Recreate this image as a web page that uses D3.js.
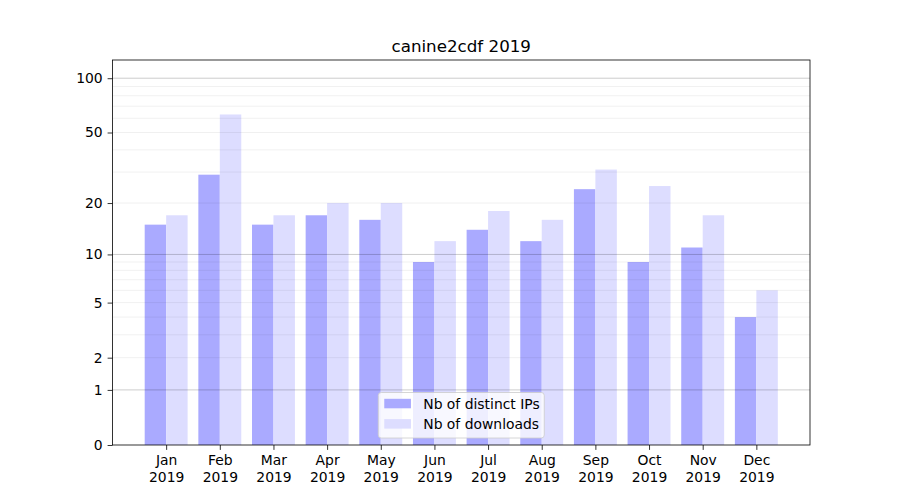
<!DOCTYPE html>
<html>
<head>
<meta charset="UTF-8">
<title>canine2cdf 2019</title>
<style>
    body { margin: 0; background: #fff; }
    svg, svg text { font-family: "DejaVu Sans", sans-serif; }
    .tick text { font-size: 13.9px; fill: #000; font-family: "DejaVu Sans", sans-serif; }
</style>
</head>
<body>
<div id="chart"></div>
<script src="https://d3js.org/d3.v7.min.js"></script>
<script>
// data
const months = ["Jan", "Feb", "Mar", "Apr", "May", "Jun", "Jul", "Aug", "Sep", "Oct", "Nov", "Dec"];
const year = "2019";
const distinctIPs = [15, 29, 15, 17, 16, 9, 14, 12, 24, 9, 11, 4];
const downloads = [17, 63, 17, 20, 20, 12, 18, 16, 31, 25, 17, 6];
const yTicks = [0, 1, 2, 5, 10, 20, 50, 100];
const majorGrid = [1, 10, 100];
const minorGrid = [2, 3, 4, 5, 6, 7, 8, 9, 20, 30, 40, 50, 60, 70, 80, 90];

const W = 900, H = 500;
const margin = { top: 60, right: 90, bottom: 55, left: 112.5 };
const width = W - margin.left - margin.right;
const height = H - margin.top - margin.bottom;

const svg = d3.select("#chart").append("svg")
    .attr("width", W).attr("height", H);

const g = svg.append("g")
    .attr("transform", `translate(${margin.left},${margin.top})`);

// x: month index, one empty slot on each side
const x = d3.scaleLinear().domain([-1, 12]).range([0, width]);
const barW = x(0.4) - x(0);

// y: symlog with constant 1 (log(1+v))
const y = d3.scaleSymlog().constant(1).domain([0, 126]).range([height, 0]);

// bars
g.selectAll(".ip").data(distinctIPs).enter().append("rect")
    .attr("class", "ip")
    .attr("x", (d, i) => x(i) - barW)
    .attr("y", d => y(d))
    .attr("width", barW)
    .attr("height", d => height - y(d))
    .attr("fill", "#aaaaff");

g.selectAll(".dl").data(downloads).enter().append("rect")
    .attr("class", "dl")
    .attr("x", (d, i) => x(i))
    .attr("y", d => y(d))
    .attr("width", barW)
    .attr("height", d => height - y(d))
    .attr("fill", "#ddddff");

// grid lines (drawn above bars like matplotlib)
g.selectAll(".minor").data(minorGrid).enter().append("line")
    .attr("x1", 0).attr("x2", width)
    .attr("y1", d => y(d)).attr("y2", d => y(d))
    .attr("stroke", "rgba(0,0,0,0.075)").attr("stroke-width", 0.8);

g.selectAll(".major").data(majorGrid).enter().append("line")
    .attr("x1", 0).attr("x2", width)
    .attr("y1", d => y(d)).attr("y2", d => y(d))
    .attr("stroke", "rgba(0,0,0,0.25)").attr("stroke-width", 0.8);

// axes
const yAxis = d3.axisLeft(y).tickValues(yTicks).tickFormat(d3.format("d"))
    .tickSize(4.9).tickPadding(4.9);
g.append("g").call(yAxis)
    .call(a => a.select(".domain").remove())
    .selectAll("line").attr("stroke", "#000").attr("stroke-width", 0.8);

const xAxis = d3.axisBottom(x).tickValues(d3.range(months.length))
    .tickFormat(i => months[i]).tickSize(4.9).tickPadding(4.9);
const xg = g.append("g").attr("transform", `translate(0,${height})`).call(xAxis);
xg.select(".domain").remove();
xg.selectAll("line").attr("stroke", "#000").attr("stroke-width", 0.8);
xg.selectAll(".tick text").each(function(i) {
    const t = d3.select(this).text(null);
    t.append("tspan").attr("x", 0).attr("dy", "0.76em").text(months[i]);
    t.append("tspan").attr("x", 0).attr("dy", "1.17em").text(year);
});

// frame
g.append("rect").attr("width", width).attr("height", height)
    .attr("fill", "none").attr("stroke", "#000").attr("stroke-width", 0.8);

// title
svg.append("text")
    .attr("x", margin.left + width / 2).attr("y", margin.top - 8)
    .attr("text-anchor", "middle")
    .style("font-size", "16.7px")
    .text("canine2cdf 2019");

// legend, lower center
const legendItems = [
    { label: "Nb of distinct IPs", color: "#aaaaff" },
    { label: "Nb of downloads", color: "#ddddff" }
];
const lg = g.append("g").attr("transform", `translate(${width / 2 - 83}, ${height - 52.5})`);
lg.append("rect")
    .attr("width", 166).attr("height", 45.5).attr("rx", 3)
    .attr("fill", "rgba(255,255,255,0.8)").attr("stroke", "#cccccc").attr("stroke-width", 0.8);
const li = lg.selectAll(".li").data(legendItems).enter().append("g")
    .attr("transform", (d, i) => `translate(0, ${11.5 + i * 20.3})`);
li.append("rect").attr("x", 6).attr("y", -5.2).attr("width", 26.7).attr("height", 9.5)
    .attr("fill", d => d.color);
li.append("text").attr("x", 45).attr("y", 0).attr("dy", "0.35em")
    .style("font-size", "13.9px").text(d => d.label);
</script>
</body>
</html>
